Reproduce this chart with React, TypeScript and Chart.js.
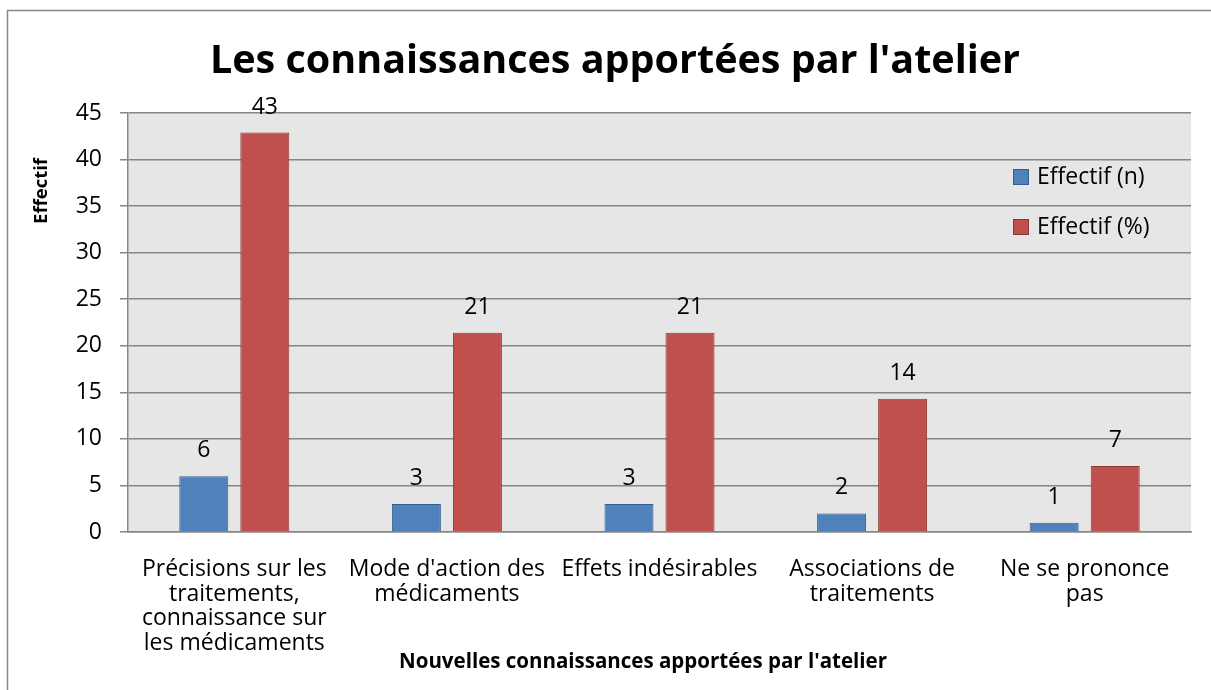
import React, { useEffect, useRef } from "react";
import { Chart, registerables } from "chart.js";

Chart.register(...registerables);

const categories: string[][] = [
  ["Précisions sur les", "traitements,", "connaissance sur", "les médicaments"],
  ["Mode d'action des", "médicaments"],
  ["Effets indésirables"],
  ["Associations de", "traitements"],
  ["Ne se prononce", "pas"],
];
const effectifN = [6, 3, 3, 2, 1];
const effectifPct = [42.9, 21.4, 21.4, 14.3, 7.1];
const seriesNames = ["Effectif (n)", "Effectif (%)"];
const yTicksMax = 45;
const yTicksStep = 5;
const chartTitle = "Les connaissances apportées par l'atelier";
const xTitle = "Nouvelles connaissances apportées par l'atelier";
const yTitle = "Effectif";

const FONT = "'Open Sans', 'Noto Sans', sans-serif";
const BLUE = "#4F81BD";
const BLUE_B = "#385D8A";
const RED = "#C0504D";
const RED_B = "#8C3836";
const GRID = "#868686";

export default function App() {
  const ref = useRef<HTMLCanvasElement | null>(null);
  useEffect(() => {
    document.body.style.margin = "0";
    const canvas = ref.current!;
    const extras = {
      id: "extras",
      beforeDraw(chart: any) {
        const { ctx, chartArea } = chart;
        ctx.save();
        ctx.fillStyle = "#ffffff";
        ctx.fillRect(0, 0, chart.width, chart.height);
        ctx.fillStyle = "#E6E6E6";
        ctx.fillRect(chartArea.left, chartArea.top, chartArea.right - chartArea.left, chartArea.bottom - chartArea.top);
        ctx.strokeStyle = GRID;
        ctx.lineWidth = 1.5;
        ctx.strokeRect(7.5, 10.5, 1400, 900);
        ctx.restore();
      },
      afterDatasetsDraw(chart: any) {
        const { ctx } = chart;
        ctx.save();
        ctx.fillStyle = "#000";
        ctx.font = `23px ${FONT}`;
        ctx.textAlign = "center";
        ctx.textBaseline = "alphabetic";
        chart.data.datasets.forEach((ds: any, i: number) => {
          const meta = chart.getDatasetMeta(i);
          meta.data.forEach((el: any, j: number) => {
            ctx.fillText(String(Math.round(ds.data[j])), el.x, el.y - 19);
          });
        });
        ctx.restore();
      },
      afterDraw(chart: any) {
        const { ctx } = chart;
        ctx.save();
        // title
        ctx.fillStyle = "#000";
        ctx.font = `bold 39.5px ${FONT}`;
        ctx.textAlign = "center";
        ctx.textBaseline = "middle";
        ctx.fillText(chartTitle, 615, 62);
        // x title
        ctx.font = `bold 20.5px ${FONT}`;
        ctx.fillText(xTitle, 643, 662);
        // y title
        ctx.font = `bold 18.5px ${FONT}`;
        ctx.save();
        ctx.translate(42, 191);
        ctx.rotate(-Math.PI / 2);
        ctx.fillText(yTitle, 0, 0);
        ctx.restore();
        // legend
        const items = [
          { name: seriesNames[0], fill: BLUE, border: BLUE_B, y: 177 },
          { name: seriesNames[1], fill: RED, border: RED_B, y: 227 },
        ];
        ctx.font = `23px ${FONT}`;
        ctx.textAlign = "left";
        items.forEach((it) => {
          ctx.fillStyle = it.fill;
          ctx.fillRect(1013, it.y - 8, 16, 16);
          ctx.strokeStyle = it.border;
          ctx.lineWidth = 1;
          ctx.strokeRect(1013.5, it.y - 7.5, 15, 15);
          ctx.fillStyle = "#000";
          ctx.fillText(it.name, 1037, it.y);
        });
        ctx.restore();
      },
    };
    const chart = new Chart(canvas, {
      type: "bar",
      data: {
        labels: categories,
        datasets: [
          {
            label: seriesNames[0],
            data: effectifN,
            backgroundColor: BLUE,
            borderColor: BLUE_B,
            borderWidth: 1,
            categoryPercentage: 0.574,
            barPercentage: 0.803,
          },
          {
            label: seriesNames[1],
            data: effectifPct,
            backgroundColor: RED,
            borderColor: RED_B,
            borderWidth: 1,
            categoryPercentage: 0.574,
            barPercentage: 0.803,
          },
        ],
      },
      options: {
        animation: false,
        responsive: false,
        maintainAspectRatio: false,
        layout: { padding: { top: 113, right: 20, left: 0, bottom: 0 } },
        plugins: { legend: { display: false }, title: { display: false }, tooltip: { enabled: false } },
        scales: {
          x: {
            grid: { display: false },
            border: { display: true, color: GRID, width: 1.5 },
            ticks: {
              color: "#000",
              font: { family: FONT, size: 23, lineHeight: 1.074 },
              maxRotation: 0,
              autoSkip: false,
              padding: 17,
            },
            afterFit: (s: any) => {
              s.height = 158;
            },
          },
          y: {
            min: 0,
            max: yTicksMax,
            ticks: {
              stepSize: yTicksStep,
              color: "#000",
              font: { family: FONT, size: 23 },
              padding: 18,
            },
            grid: { color: GRID, lineWidth: 1.5, tickLength: 8, drawTicks: true },
            border: { display: true, color: GRID, width: 1.5 },
            afterFit: (s: any) => {
              s.width = 128;
            },
          },
        },
      },
      plugins: [extras],
    });
    return () => chart.destroy();
  }, []);
  return <canvas ref={ref} width={1211} height={690} style={{ display: "block" }} />;
}
